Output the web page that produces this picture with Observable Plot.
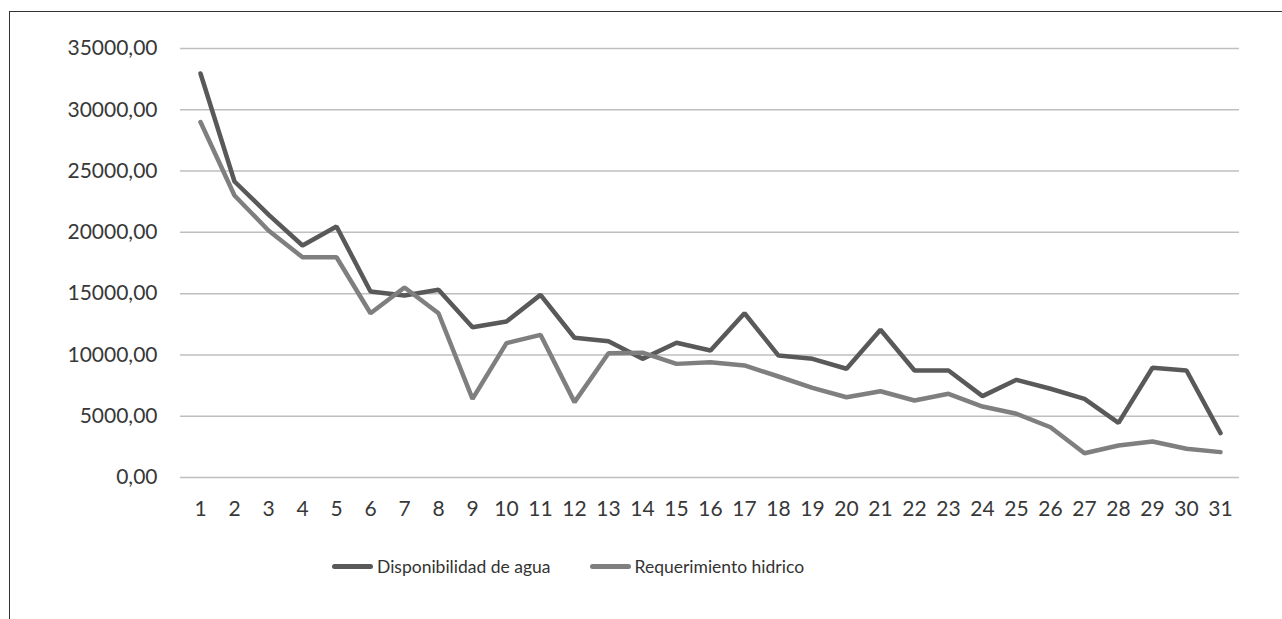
<!DOCTYPE html>
<html><head><meta charset="utf-8">
<script src="https://cdn.jsdelivr.net/npm/d3@7"></script>
<script src="https://cdn.jsdelivr.net/npm/@observablehq/plot@0.6"></script>
<style>
body{margin:0;background:#fff;font-family:Lato,sans-serif;width:1282px;height:619px;overflow:hidden;position:relative;}
#frame{position:absolute;left:9px;top:11px;right:0;bottom:-5px;border-top:1.5px solid #333;border-left:1.5px solid #333;}
#chart{position:absolute;left:0;top:0;}
#legend{position:absolute;top:554px;left:332px;display:flex;align-items:center;font-size:17.5px;color:#333;height:24px;}
.item{display:flex;align-items:center;}
.swatch{width:41px;height:5px;border-radius:2.5px;margin-right:4px;}
</style>
</head><body>
<div id="frame"></div>
<div id="chart"></div>
<div id="legend"></div>
<script>
const days = Array.from({length:31},(_,i)=>String(i+1));
const disponibilidad = [32960,24150,21450,18930,20480,15175,14850,15310,12260,12730,14900,11400,11120,9680,10990,10360,13400,9950,9680,8870,12050,8730,8730,6640,7970,7240,6420,4460,8950,8730,3620];
const requerimiento = [29000,23010,20150,17970,17970,13400,15500,13400,6420,10960,11640,6150,10140,10180,9270,9410,9140,8240,7310,6550,7040,6280,6830,5790,5200,4100,1980,2610,2940,2340,2070];
const yTicks = [0,5000,10000,15000,20000,25000,30000,35000];
const seriesNames = ["Disponibilidad de agua","Requerimiento hidrico"];
const seriesColors = ["#595959","#7f7f7f"];

const rows = days.map((d,i)=>({day:d, disp:disponibilidad[i], req:requerimiento[i]}));
const fmt = v => d3.format(".2f")(v).replace(".", ",");

const chart = Plot.plot({
  width:1282, height:530,
  marginLeft:180, marginRight:43, marginTop:48, marginBottom:53,
  x:{type:"point", domain:days, padding:0.5},
  y:{domain:[0,35000]},
  style:{fontFamily:"Lato, sans-serif", fontSize:"21px", color:"#383838", background:"transparent"},
  marks:[
    Plot.ruleY(yTicks,{stroke:"#bfbfbf", strokeWidth:1.5}),
    Plot.axisY({ticks:yTicks, tickSize:0, tickPadding:23, tickFormat:fmt, label:null, fontSize:21}),
    Plot.axisX({tickSize:0, tickPadding:24, label:null, fontSize:21}),
    Plot.line(rows,{x:"day", y:"disp", stroke:seriesColors[0], strokeWidth:4.5, strokeLinejoin:"miter", strokeLinecap:"round"}),
    Plot.line(rows,{x:"day", y:"req", stroke:seriesColors[1], strokeWidth:4.5, strokeLinejoin:"miter", strokeLinecap:"round"})
  ]
});
document.getElementById("chart").appendChild(chart);

const legend = document.getElementById("legend");
seriesNames.forEach((n,i)=>{
  const it = document.createElement("div");
  it.className="item";
  if(i>0) it.style.marginLeft="39px";
  const sw = document.createElement("div");
  sw.className="swatch"; sw.style.background=seriesColors[i];
  const tx = document.createElement("span"); tx.textContent=n;
  it.appendChild(sw); it.appendChild(tx);
  legend.appendChild(it);
});
</script>
</body></html>
